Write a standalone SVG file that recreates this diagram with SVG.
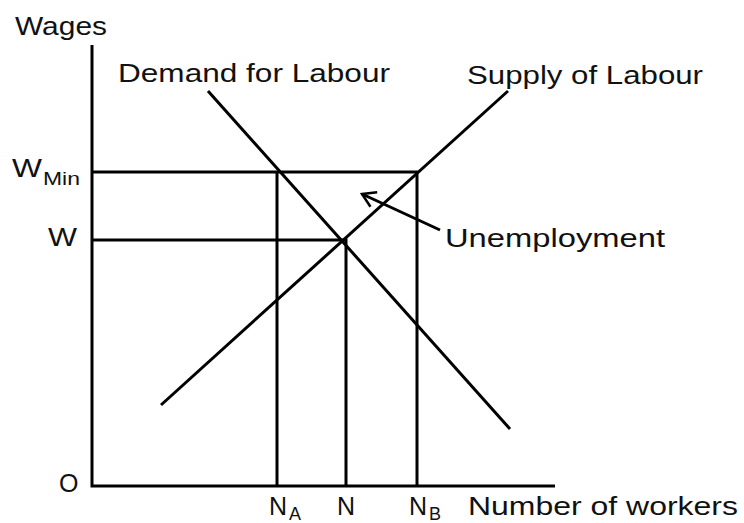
<svg xmlns="http://www.w3.org/2000/svg" width="744" height="523" viewBox="0 0 744 523">
<style>
.ln{stroke:#000;stroke-width:3;fill:none;stroke-linecap:butt}
.t{font-family:"Liberation Sans",Arial,sans-serif;font-size:25px;fill:#111}
.s{font-family:"Liberation Sans",Arial,sans-serif;font-size:18px;fill:#111}
</style>
<defs>
<marker id="arr" viewBox="0 0 20 20" refX="18" refY="10" markerWidth="20" markerHeight="20" markerUnits="userSpaceOnUse" orient="auto">
<path d="M5,2 L18,10 L5,18" fill="none" stroke="#000" stroke-width="2.5"/>
</marker>
</defs>
<rect width="744" height="523" fill="#fff"/>
<g id="axes">
<path class="ln" d="M92,45 V486 H555"/>
</g>
<g id="guides">
<path class="ln" d="M92,172 H417 V486"/>
<path class="ln" d="M92,240 H346 V486"/>
<path class="ln" d="M277,172 V486"/>
</g>
<g id="connectors">
<line id="demand" class="ln" x1="208" y1="91" x2="510" y2="429"/>
<line id="supply" class="ln" x1="161" y1="405" x2="508" y2="91"/>
<line id="unemp-arrow" class="ln" stroke-width="2.5" x1="440" y1="230" x2="362" y2="194" marker-end="url(#arr)"/>
</g>
<g id="labels">
<text class="t" x="15" y="35" textLength="92" lengthAdjust="spacingAndGlyphs">Wages</text>
<text class="t" x="118" y="82" textLength="272" lengthAdjust="spacingAndGlyphs">Demand for Labour</text>
<text class="t" x="467" y="84" textLength="236" lengthAdjust="spacingAndGlyphs">Supply of Labour</text>
<text class="t" x="12" y="177" textLength="30" lengthAdjust="spacingAndGlyphs">W</text><text class="s" x="43" y="185" textLength="37" lengthAdjust="spacingAndGlyphs">Min</text>
<text class="t" x="48" y="246" textLength="29" lengthAdjust="spacingAndGlyphs">W</text>
<text class="t" x="445" y="247" textLength="220" lengthAdjust="spacingAndGlyphs">Unemployment</text>
<text class="t" x="59" y="492">O</text>
<text class="t" x="269" y="515">N</text><text class="s" x="289" y="520">A</text>
<text class="t" x="337" y="515">N</text>
<text class="t" x="409" y="515">N</text><text class="s" x="429" y="520">B</text>
<text class="t" x="468" y="515" textLength="270" lengthAdjust="spacingAndGlyphs">Number of workers</text>
</g>
</svg>
